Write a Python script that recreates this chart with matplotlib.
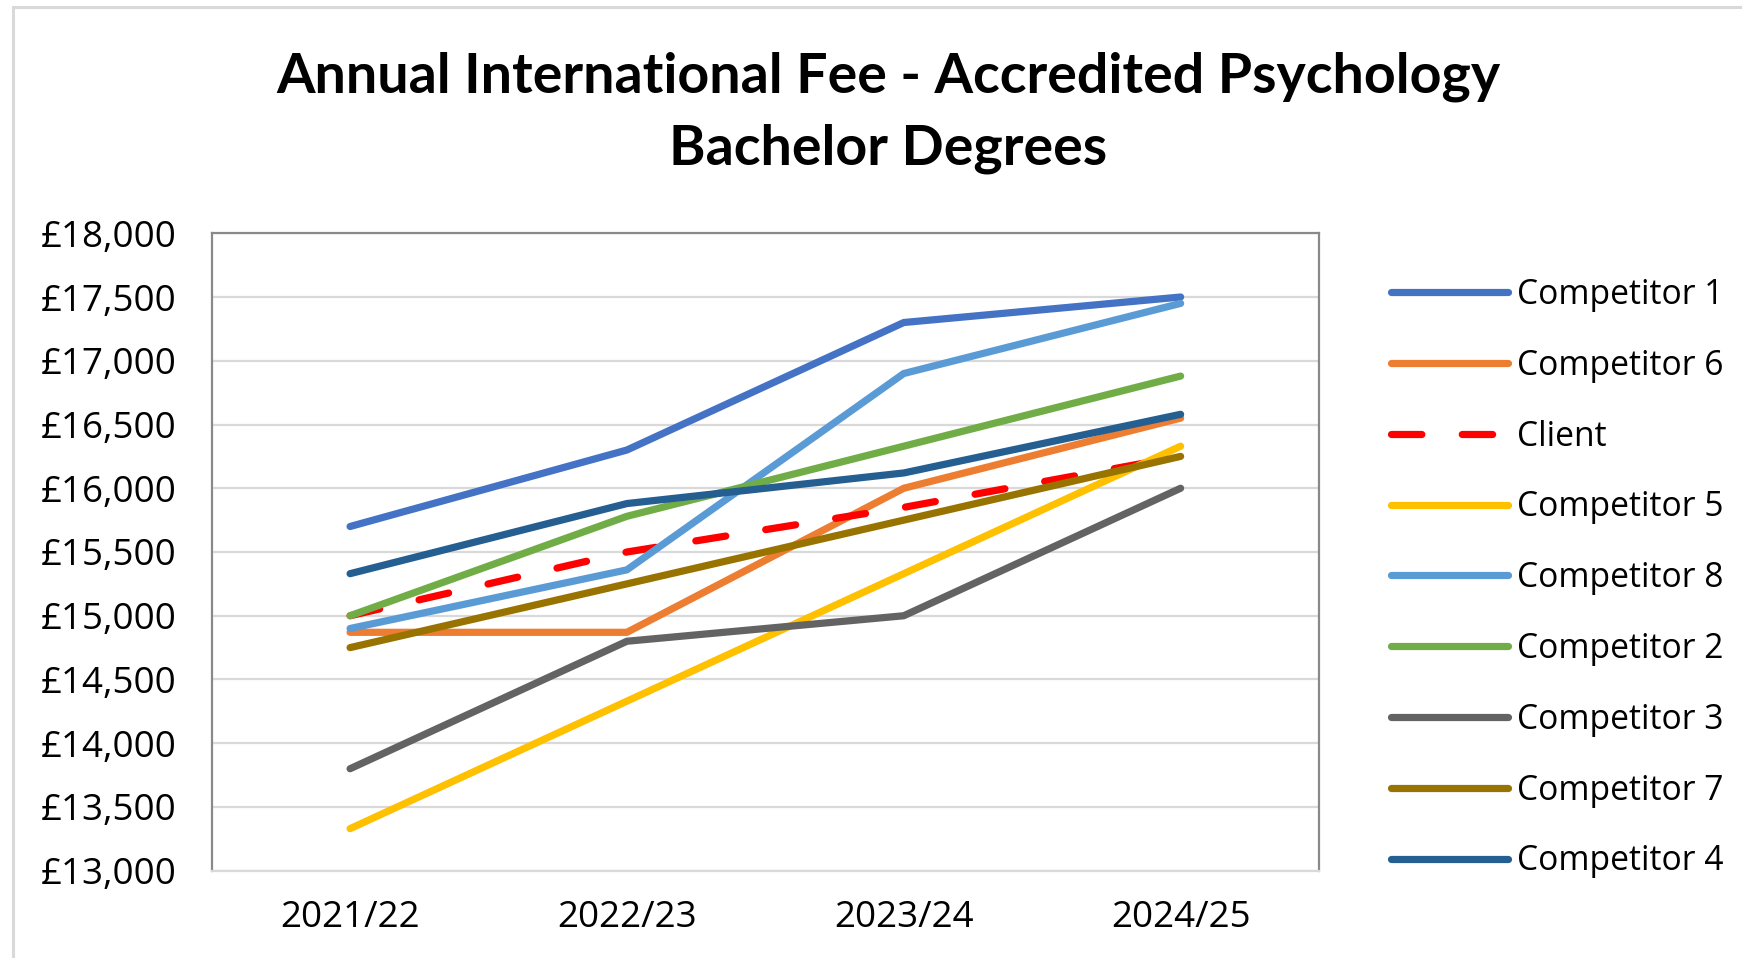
import matplotlib
matplotlib.use("Agg")
import matplotlib.pyplot as plt
from matplotlib.patches import Rectangle
from matplotlib.ticker import FuncFormatter

# Data
years = ['2021/22', '2022/23', '2023/24', '2024/25']
series_names = ['Competitor 1', 'Competitor 6', 'Client', 'Competitor 5', 'Competitor 8',
                'Competitor 2', 'Competitor 3', 'Competitor 7', 'Competitor 4']
competitor_1 = [15700, 16300, 17300, 17500]
competitor_6 = [14870, 14870, 16000, 16550]
client = [15000, 15500, 15850, 16250]
competitor_5 = [13330, 14330, 15330, 16330]
competitor_8 = [14900, 15360, 16900, 17450]
competitor_2 = [15000, 15780, 16330, 16880]
competitor_3 = [13800, 14800, 15000, 16000]
competitor_7 = [14750, 15250, 15750, 16250]
competitor_4 = [15330, 15880, 16120, 16580]

values = [competitor_1, competitor_6, client, competitor_5, competitor_8,
          competitor_2, competitor_3, competitor_7, competitor_4]
colors = ['#4472C4', '#ED7D31', '#FF0000', '#FFC000', '#5B9BD5',
          '#70AD47', '#636363', '#997300', '#255E91']

plt.rcParams['font.family'] = ['Open Sans', 'DejaVu Sans']

fig = plt.figure(figsize=(17.42, 9.58), dpi=100)
ax = fig.add_axes([0.1215, 0.0911, 0.6357, 0.6654])

# chart area border (only left/top visible)
fig.patches.append(Rectangle((13 / 1742, -0.1), 1.2, 1.1 - 7 / 958, transform=fig.transFigure,
                             fill=False, edgecolor='#d9d9d9', linewidth=2.2))

x = list(range(len(years)))
for name, vals, col in zip(series_names, values, colors):
    if name == 'Client':
        ax.plot(x, vals, color=col, linewidth=5.2, dashes=(4.2, 5.6),
                dash_capstyle='round', label=name)
    else:
        ax.plot(x, vals, color=col, linewidth=5.2, solid_capstyle='round',
                solid_joinstyle='round', label=name)

ax.set_xlim(-0.5, 3.5)
ax.set_ylim(13000, 18000)
ax.set_yticks(range(13000, 18001, 500))
ax.yaxis.set_major_formatter(FuncFormatter(lambda v, p: '£{:,.0f}'.format(v)))
ax.set_xticks(x)
ax.set_xticklabels(years)
ax.tick_params(axis='y', length=0, pad=25, labelsize=26.5)
ax.tick_params(axis='x', length=0, pad=21, labelsize=26.5)
ax.grid(axis='y', color='#d9d9d9', linewidth=1.6)
ax.set_axisbelow(True)
for side in ['left', 'top', 'right']:
    ax.spines[side].set_color('#898989')
    ax.spines[side].set_linewidth(1.6)
ax.spines['bottom'].set_color('#d9d9d9')
ax.spines['bottom'].set_linewidth(1.6)

ax.legend(loc='upper left', bbox_to_anchor=(1.0525, 0.951), frameon=False,
          fontsize=24.2, handlelength=3.5, handletextpad=0.25, labelspacing=1.095,
          borderaxespad=0)

fig.text(0.51, 0.882, 'Annual International Fee - Accredited Psychology\nBachelor Degrees',
         ha='center', va='center', fontsize=40, fontweight='bold', family='Lato',
         linespacing=1.53)

fig.savefig('out.png', dpi=100)
